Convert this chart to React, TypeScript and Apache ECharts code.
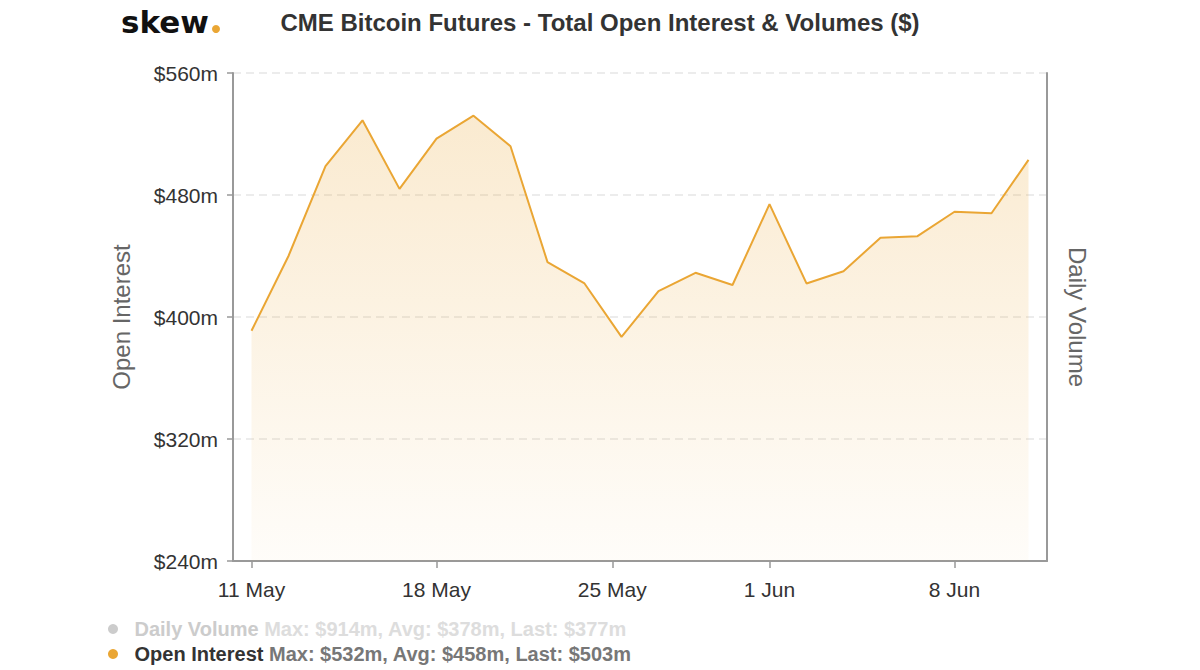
import React, { useEffect, useRef } from "react";
import * as echarts from "echarts";

const dates = [
  "11 May", "12 May", "13 May", "14 May", "15 May",
  "18 May", "19 May", "20 May", "21 May", "22 May",
  "26 May", "27 May", "28 May", "29 May",
  "1 Jun", "2 Jun", "3 Jun", "4 Jun", "5 Jun",
  "8 Jun", "9 Jun", "10 Jun",
];
const openInterest = [
  391, 440, 499, 529, 484, 517, 532, 512, 436, 422, 387,
  417, 429, 421, 474, 422, 430, 452, 453, 469, 468, 503,
];
const dailyVolume: number[] = [];
const tickPositions = [0, 5, 9.75, 14, 19];
const tickLabels = ["11 May", "18 May", "25 May", "1 Jun", "8 Jun"];
const yTicks = [240, 320, 400, 480, 560];
const volumeStats = "Max: $914m, Avg: $378m, Last: $377m";
const oiStats = "Max: $532m, Avg: $458m, Last: $503m";

const FONT = "'Liberation Sans', Arial, Helvetica, sans-serif";
const ORANGE = "#EAA634";

export default function App() {
  const ref = useRef<HTMLDivElement>(null);
  useEffect(() => {
    if (!ref.current) return;
    const chart = echarts.init(ref.current, undefined, { renderer: "svg" });
    chart.setOption({
      animation: false,
      backgroundColor: "#ffffff",
      textStyle: { fontFamily: FONT },
      title: {
        text: "CME Bitcoin Futures - Total Open Interest & Volumes ($)",
        left: "center",
        top: 5,
        textStyle: { fontFamily: FONT, fontSize: 24, fontWeight: "bold", color: "#333333" },
      },
      graphic: [
        {
          type: "text",
          left: 121,
          top: 6,
          style: {
            text: "skew",
            fontFamily: "'DejaVu Sans', sans-serif",
            fontWeight: "bold",
            fontSize: 31,
            fill: "#111111",
          },
        },
        {
          type: "circle",
          shape: { cx: 216, cy: 29, r: 4 },
          style: { fill: ORANGE },
        },
      ],
      legend: {
        orient: "vertical",
        left: 108,
        top: 619,
        padding: 0,
        itemWidth: 33,
        itemHeight: 10,
        itemGap: 5,
        icon: "circle",
        inactiveColor: "#cccccc",
        selected: { "Daily Volume": false },
        data: ["Daily Volume", "Open Interest"],
        formatter: (name: string) =>
          name === "Daily Volume"
            ? `{dvName|${name}} {dvStats|${volumeStats}}`
            : `{oiName|${name}} {oiStats|${oiStats}}`,
        textStyle: {
          fontFamily: FONT,
          fontSize: 20,
          fontWeight: "bold",
          lineHeight: 20,
          rich: {
            dvName: { fontFamily: FONT, fontSize: 20, fontWeight: "bold", color: "#cccccc", lineHeight: 20 },
            dvStats: { fontFamily: FONT, fontSize: 20, fontWeight: "bold", color: "#dddddd", lineHeight: 20 },
            oiName: { fontFamily: FONT, fontSize: 20, fontWeight: "bold", color: "#333333", lineHeight: 20 },
            oiStats: { fontFamily: FONT, fontSize: 20, fontWeight: "bold", color: "#777777", lineHeight: 20 },
          },
        },
      },
      grid: { left: 233, right: 153, top: 73, bottom: 109, containLabel: false },
      xAxis: {
        type: "value",
        min: -0.5,
        max: dates.length - 0.5,
        splitLine: { show: false },
        axisLine: { show: true, onZero: false, lineStyle: { color: "#999999", width: 2 } },
        axisTick: {
          show: true,
          customValues: tickPositions,
          length: 7,
          lineStyle: { color: "#999999", width: 1.5 },
        },
        axisLabel: {
          customValues: tickPositions,
          margin: 18,
          fontSize: 21,
          color: "#333333",
          fontFamily: FONT,
          formatter: (v: number) => {
            const i = tickPositions.findIndex((p) => Math.abs(p - v) < 1e-6);
            return i >= 0 ? tickLabels[i] : "";
          },
        },
      },
      yAxis: [
        {
          type: "value",
          min: yTicks[0],
          max: yTicks[yTicks.length - 1],
          interval: 80,
          name: "Open Interest",
          nameLocation: "middle",
          nameGap: 100,
          nameTextStyle: { fontFamily: FONT, fontSize: 24, color: "#666666" },
          axisLine: { show: true, onZero: false, lineStyle: { color: "#999999", width: 2 } },
          axisTick: { show: true, length: 6, lineStyle: { color: "#999999", width: 1.5 } },
          axisLabel: {
            margin: 15,
            fontSize: 21,
            color: "#333333",
            fontFamily: FONT,
            formatter: (v: number) => `$${v}m`,
          },
          splitLine: {
            show: true,
            lineStyle: { color: "#e6e6e6", width: 1.5, type: [8, 5] },
          },
        },
        {
          type: "value",
          position: "right",
          min: 0,
          max: 1000,
          name: "Daily Volume",
          nameLocation: "middle",
          nameGap: 18,
          nameRotate: -90,
          nameTextStyle: { fontFamily: FONT, fontSize: 24, color: "#666666" },
          axisLine: { show: true, onZero: false, lineStyle: { color: "#999999", width: 2 } },
          axisTick: { show: false },
          axisLabel: { show: false },
          splitLine: { show: false },
        },
      ],
      series: [
        {
          name: "Daily Volume",
          type: "bar",
          yAxisIndex: 1,
          itemStyle: { color: "#999999" },
          data: dailyVolume,
        },
        {
          name: "Open Interest",
          type: "line",
          yAxisIndex: 0,
          symbol: "none",
          showSymbol: false,
          lineStyle: { color: ORANGE, width: 2 },
          itemStyle: { color: ORANGE },
          areaStyle: {
            color: new echarts.graphic.LinearGradient(0, 0, 0, 1, [
              { offset: 0, color: "rgba(234,166,52,0.33)" },
              { offset: 1, color: "rgba(234,166,52,0.04)" },
            ]),
          },
          data: openInterest.map((v, i) => [i, v]),
        },
      ],
    });
    return () => chart.dispose();
  }, []);
  return (
    <div
      ref={ref}
      style={{ position: "absolute", left: 0, top: 0, width: 1200, height: 670 }}
    />
  );
}
